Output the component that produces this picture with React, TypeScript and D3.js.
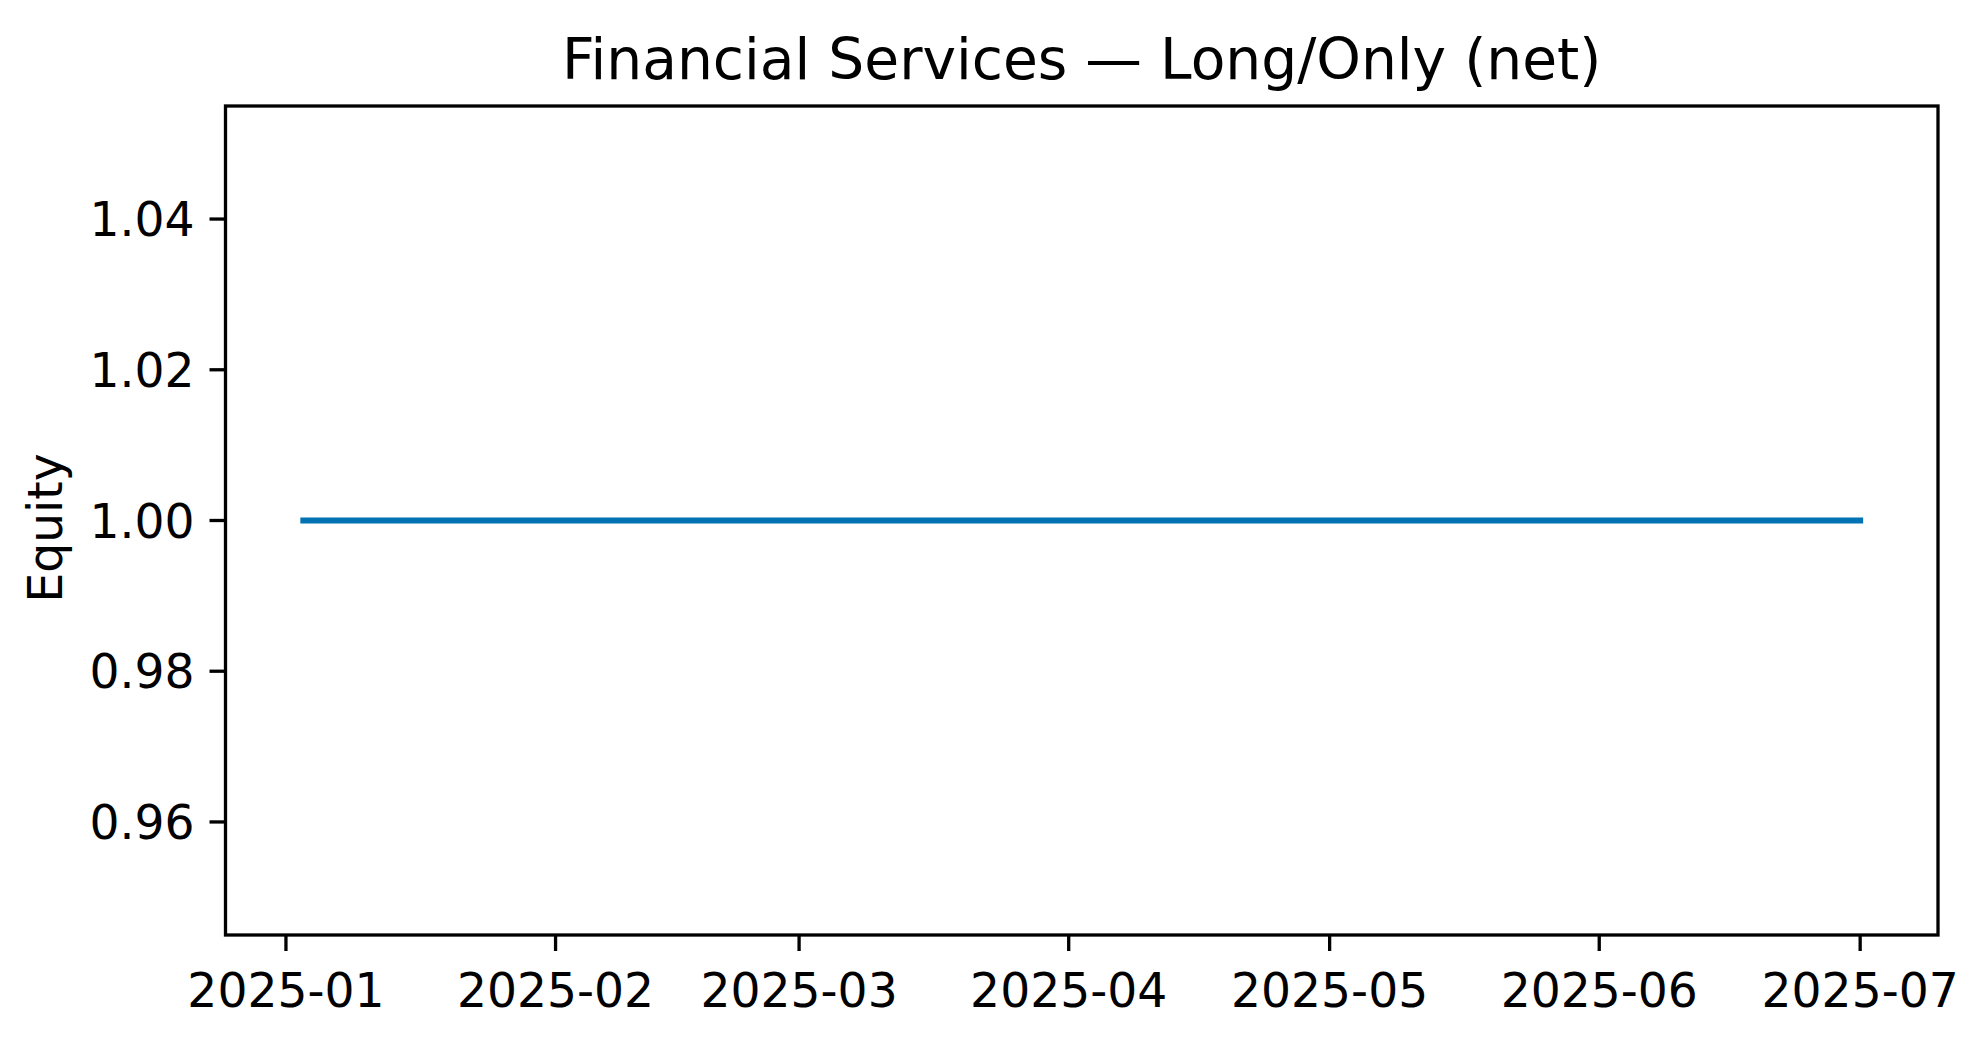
import React from "react";
import * as d3 from "d3";

const TITLE = "Financial Services — Long/Only (net)";
const Y_LABEL = "Equity";
const dates = ["2025-01-03", "2025-07-01"];
const equity = [1.0, 1.0];
const yTicks = [0.96, 0.98, 1.0, 1.02, 1.04];
const xTickDates = ["2025-01-01", "2025-02-01", "2025-03-01", "2025-04-01", "2025-05-01", "2025-06-01", "2025-07-01"];

const W = 1971;
const H = 1040;
const M = { left: 225.5, right: 1938, top: 106, bottom: 935 };
const FONT = "'DejaVu Sans', sans-serif";
const TICK_FS = 47.2;
const TITLE_FS = 56.7;
const LW = 3.3;
const TICK_LEN = 16;

export default function App() {
  const parse = d3.utcParse("%Y-%m-%d");
  const ds = dates.map((d) => parse(d) as Date);
  const t0 = +ds[0];
  const t1 = +ds[ds.length - 1];
  const span = t1 - t0;
  const x = d3.scaleUtc().domain([new Date(t0 - 0.05 * span), new Date(t1 + 0.05 * span)]).range([M.left, M.right]);

  const vMin = d3.min(equity) as number;
  const vMax = d3.max(equity) as number;
  let lo = vMin, hi = vMax;
  if (hi - lo < 1e-12) { lo = vMin - 0.05 * Math.abs(vMin); hi = vMax + 0.05 * Math.abs(vMax); }
  const pad = (hi - lo) * 0.05;
  const y = d3.scaleLinear().domain([lo - pad, hi + pad]).range([M.bottom, M.top]);

  const pts: [number, number][] = ds.map((d, i) => [x(d), y(equity[i])]);
  const line = d3.line()(pts) || "";
  const fmtX = d3.utcFormat("%Y-%m");

  return (
    <svg width={W} height={H} style={{ position: "absolute", left: 0, top: 0, background: "#fff" }} fontFamily={FONT}>
      <rect x={0} y={0} width={W} height={H} fill="#fff" />
      <path d={line} fill="none" stroke="#0173b2" strokeWidth={6} strokeLinecap="square" />
      <rect x={M.left} y={M.top} width={M.right - M.left} height={M.bottom - M.top} fill="none" stroke="#000" strokeWidth={LW} />
      {yTicks.map((v) => (
        <g key={v}>
          <line x1={M.left - TICK_LEN} x2={M.left} y1={y(v)} y2={y(v)} stroke="#000" strokeWidth={LW} />
          <text x={M.left - TICK_LEN - 15} y={y(v) + 17} fontSize={TICK_FS} textAnchor="end" fill="#000">
            {v.toFixed(2)}
          </text>
        </g>
      ))}
      {xTickDates.map((s) => {
        const d = parse(s) as Date;
        return (
          <g key={s}>
            <line x1={x(d)} x2={x(d)} y1={M.bottom} y2={M.bottom + TICK_LEN} stroke="#000" strokeWidth={LW} />
            <text x={x(d)} y={1006.5} fontSize={TICK_FS} textAnchor="middle" fill="#000">
              {fmtX(d)}
            </text>
          </g>
        );
      })}
      <text x={(M.left + M.right) / 2} y={79} fontSize={TITLE_FS} textAnchor="middle" fill="#000">
        {TITLE}
      </text>
      <text transform={`translate(62, 528) rotate(-90)`} fontSize={TICK_FS} textAnchor="middle" fill="#000">
        {Y_LABEL}
      </text>
    </svg>
  );
}
